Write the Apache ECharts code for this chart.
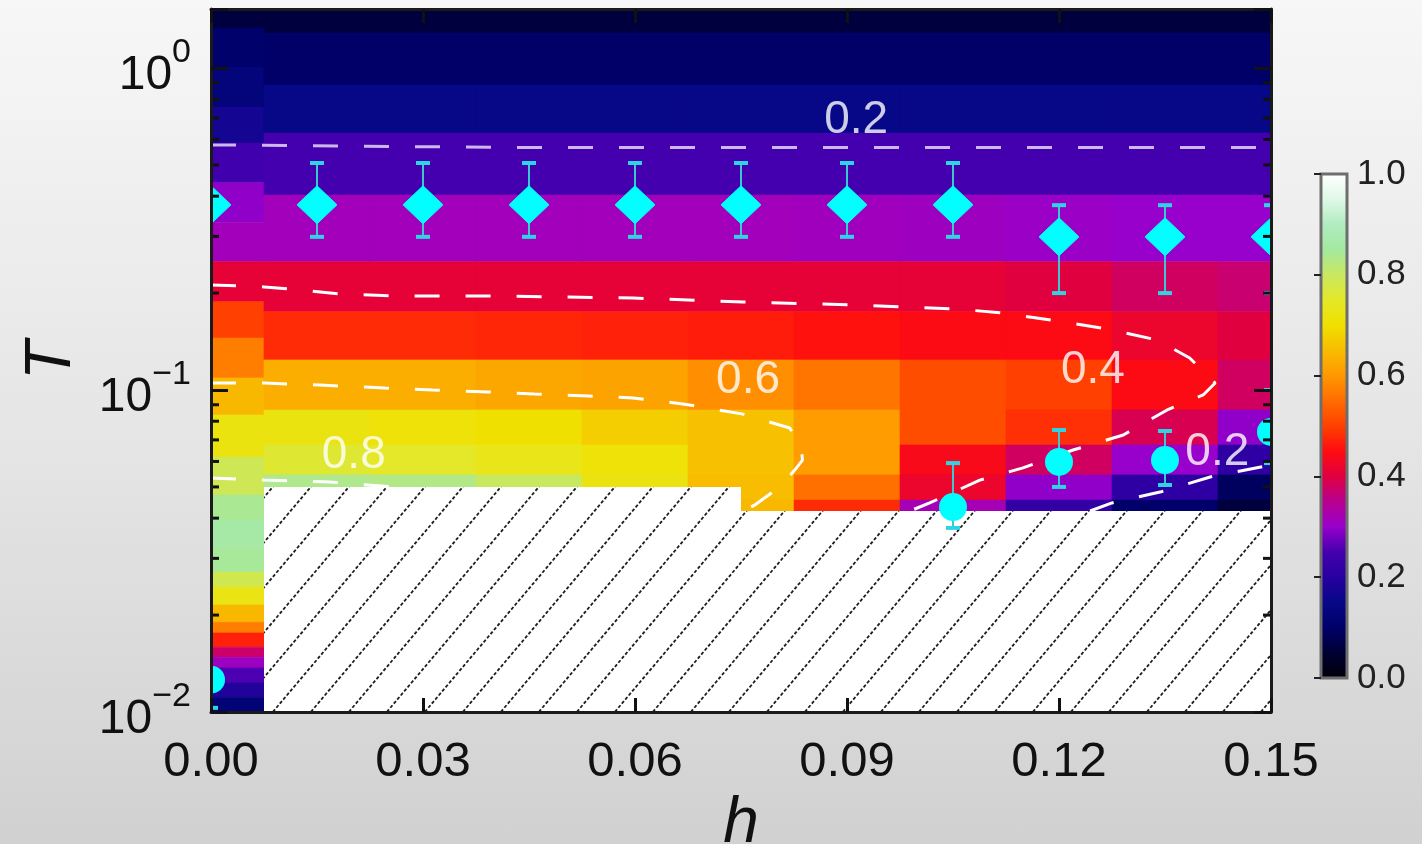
<!DOCTYPE html>
<html>
<head>
<meta charset="utf-8">
<script src="https://cdn.jsdelivr.net/npm/echarts@6.0.0/dist/echarts.min.js"></script>
<style>
  html, body { margin: 0; padding: 0; }
  #chart {
    width: 1422px; height: 844px;
    background: linear-gradient(to bottom, #f7f7f7 0%, #e4e4e4 55%, #d1d1d1 100%);
  }
</style>
</head>
<body>
<div id="chart"></div>
<script>
const FONT = "'Liberation Sans', Arial, sans-serif";
const H_MIN = 0, H_MAX = 0.15, T_MIN = 0.01, T_MAX = 1.525;
const HALF = 0.0075; // half column width

// colour map, evenly spaced from 0 to 1
const cmap = [
  '#000008', '#000034', '#000068', '#060888', '#2800a0', '#4400ae', '#9800cc',
  '#b80090', '#e00040', '#ff0c10', '#ff4000', '#ff6c00', '#ff9800', '#f8bc00',
  '#f0e000', '#e4e828', '#c8e860', '#a4e8a0', '#b0ecc0', '#e0f8e8', '#ffffff'
];

// h = 0 column has its own (finer) T grid
const tEdgesH0 = [1.525, 1.331, 1.007, 0.757, 0.585, 0.44, 0.332, 0.25, 0.188, 0.145,
  0.109, 0.0836, 0.0619, 0.0472, 0.0395, 0.0325, 0.0272, 0.0244, 0.0215, 0.019,
  0.0176, 0.0159, 0.0148, 0.0137, 0.0123, 0.0111, 0.01];
const valuesH0 = [0.06, 0.105, 0.13, 0.17, 0.245, 0.295, 0.315, 0.41, 0.50, 0.57,
  0.645, 0.72, 0.79, 0.84, 0.86, 0.845, 0.785, 0.725, 0.645, 0.57,
  0.47, 0.375, 0.31, 0.255, 0.19, 0.12];

// h > 0 columns
const hCols = [0.015, 0.03, 0.045, 0.06, 0.075, 0.09, 0.105, 0.12, 0.135, 0.15];
const tEdges = [1.525, 1.284, 0.8855, 0.628, 0.403, 0.25, 0.175, 0.124, 0.0867, 0.0675, 0.0545, 0.0455, 0.0421];
const cellValues = [
  [0.06, 0.06, 0.06, 0.06, 0.06, 0.06, 0.06, 0.06, 0.06, 0.06],
  [0.10, 0.10, 0.10, 0.10, 0.10, 0.10, 0.10, 0.10, 0.10, 0.10],
  [0.15, 0.15, 0.15, 0.15, 0.15, 0.15, 0.15, 0.15, 0.15, 0.15],
  [0.25, 0.25, 0.25, 0.25, 0.25, 0.25, 0.25, 0.25, 0.25, 0.25],
  [0.315, 0.315, 0.315, 0.315, 0.315, 0.312, 0.31, 0.305, 0.30, 0.30],
  [0.41, 0.41, 0.41, 0.41, 0.41, 0.41, 0.41, 0.40, 0.38, 0.37],
  [0.48, 0.48, 0.475, 0.47, 0.465, 0.455, 0.445, 0.445, 0.42, 0.40],
  [0.63, 0.63, 0.62, 0.615, 0.59, 0.56, 0.515, 0.50, 0.445, 0.38],
  [0.72, 0.71, 0.70, 0.675, 0.655, 0.605, 0.515, 0.485, 0.39, 0.295],
  [0.76, 0.75, 0.73, 0.71, 0.655, 0.605, 0.44, 0.38, 0.30, 0.21],
  [0.835, 0.83, 0.80, 0.72, 0.65, 0.555, 0.42, 0.295, 0.21, 0.09],
  [0.835, 0.83, 0.80, 0.72, 0.645, 0.48, 0.32, 0.22, 0.10, 0.06]
];

// hatched (no data) region
const hatchH = [0.0075, 0.075, 0.075, 0.15, 0.15, 0.0075];
const hatchT = [0.050, 0.050, 0.0421, 0.0421, 0.01, 0.01];

// diamonds with error bars
const diamondH = [0, 0.015, 0.03, 0.045, 0.06, 0.075, 0.09, 0.105, 0.12, 0.135, 0.15];
const diamondT = [0.376, 0.376, 0.376, 0.376, 0.376, 0.376, 0.376, 0.376, 0.299, 0.299, 0.299];
const diamondLo = [null, 0.299, 0.299, 0.299, 0.299, 0.299, 0.299, 0.299, 0.200, 0.200, 0.200];
const diamondHi = [null, 0.507, 0.507, 0.507, 0.507, 0.507, 0.507, 0.507, 0.375, 0.375, 0.375];

// circles with error bars
const circleH = [0, 0.105, 0.12, 0.135, 0.15];
const circleT = [0.0126, 0.0433, 0.0598, 0.0606, 0.0741];
const circleLo = [0.0103, 0.0373, 0.0500, 0.0507, 0.0593];
const circleHi = [0.0126, 0.0593, 0.0751, 0.0746, 0.100];

// contour lines
const c02aH = [0, 0.045, 0.15];
const c02aT = [0.577, 0.566, 0.566];
const c04H = [0, 0.0075, 0.0126, 0.0183, 0.0268, 0.0409, 0.0597, 0.0753, 0.0911, 0.1056, 0.1121, 0.1197,
  0.1269, 0.1339, 0.1385, 0.1421, 0.1404, 0.1353, 0.1291, 0.1220, 0.1149, 0.1088, 0.1017, 0.0989];
const c04T = [0.212, 0.209, 0.2045, 0.1987, 0.1958, 0.1958, 0.1931, 0.1876, 0.1837, 0.1784, 0.1734, 0.1638,
  0.1547, 0.143, 0.1257, 0.1051, 0.0965, 0.0867, 0.0725, 0.0651, 0.0573, 0.0525, 0.0446, 0.0421];
const c06H = [0, 0.0075, 0.0154, 0.0246, 0.0314, 0.0392, 0.0458, 0.0534, 0.0597, 0.0668, 0.0751, 0.0819,
  0.0835, 0.0837, 0.0826, 0.0805, 0.0770, 0.0756];
const c06T = [0.1051, 0.1051, 0.1036, 0.1014, 0.1, 0.0986, 0.0972, 0.0958, 0.0945, 0.0905, 0.0843, 0.0762,
  0.0675, 0.0606, 0.0564, 0.05, 0.044, 0.0424];
const c08H = [0, 0.0075, 0.0168, 0.0258];
const c08T = [0.0533, 0.0525, 0.0518, 0.05];
const c02bH = [0.1244, 0.1275, 0.1343, 0.1414, 0.15];
const c02bT = [0.0421, 0.0446, 0.0482, 0.0537, 0.0585];

const labelText = ['0.2', '0.6', '0.8', '0.4', '0.2'];
const labelH = [0.0913, 0.076, 0.0202, 0.1248, 0.1424];
const labelT = [0.69, 0.1074, 0.0628, 0.1154, 0.0642];

const minorTickT = [0.02, 0.03, 0.04, 0.05, 0.06, 0.07, 0.08, 0.09, 0.2, 0.3, 0.4, 0.5, 0.6, 0.7, 0.8, 0.9];

// ---- build cells ----
const cells = [];
valuesH0.forEach((v, i) => cells.push([-HALF, HALF, tEdgesH0[i + 1], tEdgesH0[i], v]));
cellValues.forEach((row, r) => {
  row.forEach((v, c) => cells.push([hCols[c] - HALF, hCols[c] + HALF, tEdges[r + 1], tEdges[r], v]));
});

const zip = (a, b) => a.map((x, i) => [x, b[i]]);

function makeHatch() {
  const w = 38, h = 45;
  const c = document.createElement('canvas');
  c.width = w; c.height = h;
  const ctx = c.getContext('2d');
  ctx.fillStyle = '#ffffff';
  ctx.fillRect(0, 0, w, h);
  ctx.strokeStyle = '#1e1e1e';
  ctx.lineWidth = 1.8;
  ctx.setLineDash([3.3, 2.05]);
  [[0, 0], [-w, 0], [w, 0], [0, -h], [0, h]].forEach(([dx, dy]) => {
    ctx.beginPath();
    ctx.moveTo(dx, h + dy);
    ctx.lineTo(w + dx, dy);
    ctx.stroke();
  });
  return c;
}
const hatchCanvas = makeHatch();

function renderCell(params, api) {
  const p0 = api.coord([api.value(0), api.value(3)]);
  const p1 = api.coord([api.value(1), api.value(2)]);
  const cs = params.coordSys;
  const shape = echarts.graphic.clipRectByRect(
    { x: p0[0], y: p0[1], width: p1[0] - p0[0], height: p1[1] - p0[1] },
    { x: cs.x, y: cs.y, width: cs.width, height: cs.height }
  );
  if (!shape) return;
  const color = api.visual('color');
  return { type: 'rect', shape, style: { fill: color, stroke: color, lineWidth: 0.6 } };
}

function renderErr(params, api) {
  const h = api.value(0), lo = api.value(1), hi = api.value(2);
  if (isNaN(lo) || isNaN(hi)) return;
  const top = api.coord([h, hi]), bot = api.coord([h, lo]);
  const cap = 7;
  return {
    type: 'group',
    children: [
      { type: 'line', shape: { x1: top[0], y1: top[1], x2: bot[0], y2: bot[1] }, style: { stroke: '#3cc6d6', lineWidth: 2 } },
      { type: 'line', shape: { x1: top[0] - cap, y1: top[1], x2: top[0] + cap, y2: top[1] }, style: { stroke: '#2fd4e4', lineWidth: 4 } },
      { type: 'line', shape: { x1: bot[0] - cap, y1: bot[1], x2: bot[0] + cap, y2: bot[1] }, style: { stroke: '#2fd4e4', lineWidth: 4 } }
    ]
  };
}

function renderDiamond(params, api) {
  const p = api.coord([api.value(0), api.value(1)]);
  const w = 20, h = 19;
  return {
    type: 'polygon',
    shape: { points: [[p[0], p[1] - h], [p[0] + w, p[1]], [p[0], p[1] + h], [p[0] - w, p[1]]] },
    style: { fill: '#00ffff', stroke: '#00ffff', lineWidth: 1 }
  };
}

function renderCircle(params, api) {
  const p = api.coord([api.value(0), api.value(1)]);
  return { type: 'circle', shape: { cx: p[0], cy: p[1], r: 14 }, style: { fill: '#00ffff' } };
}

function renderMinorTick(params, api) {
  const t = api.value(1);
  const l = api.coord([H_MIN, t]), r = api.coord([H_MAX, t]);
  const st = { stroke: '#111', lineWidth: 3 };
  return {
    type: 'group',
    children: [
      { type: 'line', shape: { x1: l[0], y1: l[1], x2: l[0] + 8, y2: l[1] }, style: st },
      { type: 'line', shape: { x1: r[0], y1: r[1], x2: r[0] - 8, y2: r[1] }, style: st }
    ]
  };
}

function contour(data, color) {
  return {
    type: 'line',
    data,
    showSymbol: false,
    symbol: 'none',
    z: 4,
    silent: true,
    lineStyle: { color, width: 3, type: [25, 26] }
  };
}

const logLabel = v => {
  const e = Math.log10(v), r = Math.round(e);
  if (Math.abs(e - r) > 1e-6) return '';
  return '{b|10}{s|' + (r < 0 ? '\u2212' + (-r) : r) + '}';
};

const axisLineStyle = { color: '#1a1a1a', width: 3 };
const tickStyle = { color: '#111', width: 3 };

const chart = echarts.init(document.getElementById('chart'));
chart.setOption({
  animation: false,
  textStyle: { fontFamily: FONT },
  grid: [
    { left: 211, top: 9, width: 1060, height: 703, outerBoundsMode: 'none', containLabel: false },
    { left: 1321, top: 174, width: 26, height: 504, show: true, z: 10, outerBoundsMode: 'none',
      backgroundColor: 'transparent', borderColor: '#6e6e6e', borderWidth: 3 }
  ],
  visualMap: {
    type: 'continuous', min: 0, max: 1, dimension: 4, seriesIndex: 0,
    inRange: { color: cmap },
    left: 1321, top: 174, itemWidth: 26, itemHeight: 504, padding: 0,
    calculable: false, hoverLink: false, z: 2
  },
  xAxis: [
    {
      type: 'value', gridIndex: 0, position: 'bottom', min: H_MIN, max: H_MAX, interval: 0.03, z: 10,
      name: 'h', nameLocation: 'middle', nameGap: 73,
      nameTextStyle: { fontSize: 64, fontStyle: 'italic', color: '#111', fontFamily: FONT },
      axisLine: { onZero: false, lineStyle: axisLineStyle },
      axisTick: { inside: true, length: 14, lineStyle: tickStyle },
      axisLabel: { margin: 26, fontSize: 49, color: '#111', formatter: v => v.toFixed(2) },
      splitLine: { show: false }
    },
    {
      type: 'value', gridIndex: 0, position: 'top', min: H_MIN, max: H_MAX, interval: 0.03, z: 10,
      axisLine: { onZero: false, lineStyle: axisLineStyle },
      axisTick: { inside: true, length: 14, lineStyle: tickStyle },
      axisLabel: { show: false }, splitLine: { show: false }
    },
    { type: 'value', gridIndex: 1, min: 0, max: 1, show: false }
  ],
  yAxis: [
    {
      type: 'log', logBase: 10, gridIndex: 0, position: 'left', min: T_MIN, max: T_MAX, z: 10,
      name: 'T', nameLocation: 'middle', nameGap: 127, nameRotate: 90,
      nameTextStyle: { fontSize: 64, fontStyle: 'italic', color: '#111', fontFamily: FONT },
      axisLine: { onZero: false, lineStyle: axisLineStyle },
      axisTick: { inside: true, length: 17, lineStyle: tickStyle },
      axisLabel: {
        margin: 20, color: '#111', formatter: logLabel,
        rich: {
          b: { fontSize: 48, padding: [16, 0, 0, 0], color: '#111', fontFamily: FONT },
          s: { fontSize: 34, verticalAlign: 'top', color: '#111', fontFamily: FONT }
        }
      },
      splitLine: { show: false }, minorTick: { show: false }
    },
    {
      type: 'log', logBase: 10, gridIndex: 0, position: 'right', min: T_MIN, max: T_MAX, z: 10,
      axisLine: { onZero: false, lineStyle: axisLineStyle },
      axisTick: { inside: true, length: 17, lineStyle: tickStyle },
      axisLabel: { show: false }, splitLine: { show: false }
    },
    {
      type: 'value', gridIndex: 1, position: 'right', min: 0, max: 1, interval: 0.2, z: 11,
      axisLine: { show: false },
      axisTick: { inside: true, length: 7, lineStyle: { color: '#222', width: 2 } },
      axisLabel: { margin: 10, fontSize: 35, color: '#222', formatter: v => v.toFixed(1) },
      splitLine: { show: false }
    }
  ],
  series: [
    {
      type: 'custom', name: 'cells', xAxisIndex: 0, yAxisIndex: 0, clip: true, z: 1, silent: true,
      renderItem: renderCell, encode: { x: [0, 1], y: [2, 3] }, data: cells
    },
    {
      type: 'custom', name: 'hatch', xAxisIndex: 0, yAxisIndex: 0, clip: true, z: 2, silent: true,
      renderItem: (params, api) => {
        if (params.dataIndex !== 0) return;
        const pts = hatchH.map((h, i) => api.coord([h, hatchT[i]]));
        return { type: 'polygon', shape: { points: pts }, style: { fill: { image: hatchCanvas, repeat: 'repeat' }, stroke: null } };
      },
      encode: { x: 0, y: 1 }, data: zip(hatchH, hatchT)
    },
    contour(zip(c02aH, c02aT), 'rgba(218, 204, 244, 0.9)'),
    contour(zip(c04H, c04T), '#ffffff'),
    contour(zip(c06H, c06T), '#ffffff'),
    contour(zip(c08H, c08T), '#ffffff'),
    contour(zip(c02bH, c02bT), '#ffffff'),
    {
      type: 'custom', name: 'errDiamond', clip: true, z: 5, silent: true, renderItem: renderErr,
      encode: { x: 0, y: [1, 2] },
      data: diamondH.map((h, i) => [h, diamondLo[i] == null ? NaN : diamondLo[i], diamondHi[i] == null ? NaN : diamondHi[i]])
    },
    {
      type: 'custom', name: 'errCircle', clip: true, z: 5, silent: true, renderItem: renderErr,
      encode: { x: 0, y: [1, 2] },
      data: circleH.map((h, i) => [h, circleLo[i], circleHi[i]])
    },
    {
      type: 'custom', name: 'diamonds', clip: true, z: 6, silent: true, renderItem: renderDiamond,
      encode: { x: 0, y: 1 }, data: zip(diamondH, diamondT)
    },
    {
      type: 'custom', name: 'circles', clip: true, z: 6, silent: true, renderItem: renderCircle,
      encode: { x: 0, y: 1 }, data: zip(circleH, circleT)
    },
    {
      type: 'scatter', name: 'labels', z: 7, silent: true, symbolSize: 0,
      label: { show: true, position: 'inside', formatter: '{b}', fontSize: 46, color: '#ffffff', fontFamily: FONT },
      data: labelText.map((t, i) => ({ name: t, value: [labelH[i], labelT[i]] }))
    },
    {
      type: 'custom', name: 'minorTicks', z: 9, silent: true, renderItem: renderMinorTick,
      encode: { x: 0, y: 1 }, data: minorTickT.map(t => [H_MIN, t])
    }
  ]
});
</script>
</body>
</html>
